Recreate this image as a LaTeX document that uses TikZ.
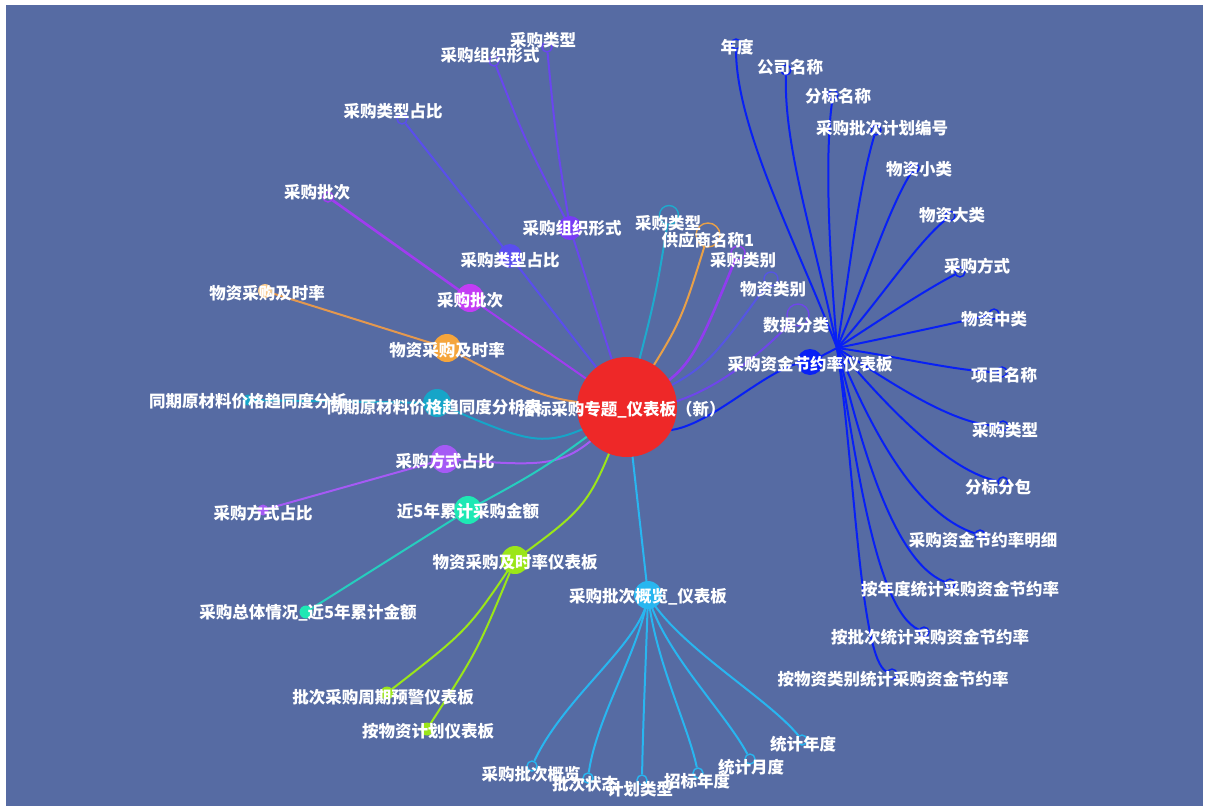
\documentclass[tikz,border=0pt]{standalone}
\usepackage{fontspec}
\newfontfamily\cjk{Noto Sans CJK SC}
\pgfdeclarelayer{bg}
\pgfdeclarelayer{edges}
\pgfdeclarelayer{text}
\pgfsetlayers{bg,edges,main,text}

\definecolor{bgblue}{RGB}{86,107,163}
\definecolor{hotred}{RGB}{238,40,40}
\definecolor{orgc}{RGB}{120,60,245}
\definecolor{orge}{RGB}{105,70,240}
\definecolor{tprc}{RGB}{90,78,238}
\definecolor{batc}{RGB}{195,60,245}
\definecolor{bate}{RGB}{160,60,240}
\definecolor{timc}{RGB}{245,165,60}
\definecolor{timee}{RGB}{228,152,78}
\definecolor{simc}{RGB}{22,165,200}
\definecolor{modc}{RGB}{165,90,245}
\definecolor{fivc}{RGB}{30,232,180}
\definecolor{fivee}{RGB}{38,205,190}
\definecolor{dshc}{RGB}{155,230,25}
\definecolor{ovwc}{RGB}{40,182,240}
\definecolor{hubc}{RGB}{8,32,245}
\definecolor{ctac}{RGB}{30,170,205}
\definecolor{ctbc}{RGB}{232,160,72}
\definecolor{ctcc}{RGB}{145,60,240}
\definecolor{ctdc}{RGB}{85,85,228}
\definecolor{ctec}{RGB}{110,70,235}

\tikzset{
  lbl/.style={text=white, font=\cjk\bfseries\fontsize{16.5}{18}\selectfont, inner sep=0pt},
  bubble/.style={circle, fill=#1, inner sep=0pt},
  ring/.style={circle, draw=#1, line width=1.4pt, minimum size=10pt, inner sep=0pt},
  dot/.style={circle, fill=#1, minimum size=11pt, inner sep=0pt},
  link/.style={draw=#1, line width=2pt},
}

\begin{document}
\begin{tikzpicture}[x=1pt,y=-1pt]
\useasboundingbox (0,0) rectangle (1208,809);
\begin{pgfonlayer}{bg}
  \fill[white] (0,0) rectangle (1208,809);
  \fill[bgblue] (6,5) rectangle (1203,806);
\end{pgfonlayer}

% ---------- main dashboard and its direct children ----------
\node[bubble=hotred, minimum size=100pt] (C) at (627,407) {};
\node[bubble=orgc, minimum size=24pt] (org) at (570,228) {};
\node[bubble=tprc, minimum size=24pt] (tpr) at (510,256) {};
\node[bubble=batc, minimum size=28pt] (bat) at (470,298) {};
\node[bubble=timc, minimum size=28pt] (tim) at (447,348) {};
\node[bubble=simc, minimum size=28pt] (sim) at (437,403) {};
\node[bubble=modc, minimum size=28pt] (mod) at (445,459) {};
\node[bubble=fivc, minimum size=28pt] (fiv) at (468,510) {};
\node[bubble=dshc, minimum size=28pt] (dsh) at (515,560) {};
\node[bubble=ovwc, minimum size=28pt] (ovw) at (648,595) {};
\node[bubble=hubc, minimum size=26pt] (hub) at (810,362) {};
\coordinate (fan) at (837,348);

% small leaves attached to the main dashboard
\node[ring=ctac, minimum size=19pt] (ca) at (669,215) {};
\node[ring=ctbc, minimum size=24pt] (cb) at (708,235) {};
\node[ring=ctcc, minimum size=14pt] (cc) at (738,253) {};
\node[ring=ctdc, minimum size=14pt] (cd) at (771,279) {};
\node[ring=ctec, minimum size=22pt] (ce) at (798,315) {};

% leaves on the left
\node[ring=orge] (o1) at (547,47) {};
\node[ring=orge] (o2) at (494,61) {};
\node[ring=tprc] (t1) at (402,119) {};
\node[ring=bate] (b1) at (328,197) {};
\node[dot=timc!60!white, minimum size=14pt] (m1) at (265,291) {};
\node[dot=simc] (s1) at (248,400) {};
\node[dot=modc] (d1) at (263,510) {};
\node[dot=fivc, minimum size=13pt] (f1) at (306,612) {};
\node[dot=dshc, minimum size=13pt] (g1) at (387,693) {};
\node[dot=dshc, minimum size=13pt] (g2) at (427,729) {};

% leaves of the batch overview
\node[ring=ovwc] (v1) at (532,766) {};
\node[ring=ovwc] (v2) at (588,778) {};
\node[ring=ovwc] (v3) at (642,780) {};
\node[ring=ovwc] (v4) at (698,773) {};
\node[ring=ovwc] (v5) at (750,759) {};
\node[ring=ovwc] (v6) at (802,740) {};

% leaves of the savings-rate dashboard
\node[ring=hubc] (h1) at (736,44) {};
\node[ring=hubc] (h2) at (786,70) {};
\node[ring=hubc] (h3) at (833,95) {};
\node[ring=hubc] (h4) at (876,130) {};
\node[ring=hubc] (h5) at (914,168) {};
\node[ring=hubc] (h6) at (950,216) {};
\node[ring=hubc] (h7) at (960,272) {};
\node[ring=hubc] (h8) at (994,314) {};
\node[ring=hubc] (h9) at (1002,372) {};
\node[ring=hubc] (h10) at (1003,426) {};
\node[ring=hubc] (h11) at (1003,482) {};
\node[ring=hubc] (h12) at (980,535) {};
\node[ring=hubc] (h13) at (950,584) {};
\node[ring=hubc] (h14) at (924,632) {};
\node[ring=hubc] (h15) at (892,674) {};

% ---------- connectors ----------
\begin{pgfonlayer}{edges}
  \draw[link=orge] (C.center) -- (org.center);
  \draw[link=tprc] (C.center) -- (tpr.center);
  \draw[link=bate] (C.center) -- (bat.center);
  \draw[link=timee] (C.center) .. controls (545,400) .. (tim.center);
  \draw[link=simc] (C.center) .. controls (545,450) .. (sim.center);
  \draw[link=modc] (C.center) .. controls (565,468) .. (mod.center);
  \draw[link=fivee] (C.center) .. controls (545,468) .. (fiv.center);
  \draw[link=dshc] (C.center) .. controls (590,505) .. (dsh.center);
  \draw[link=ovwc] (C.center) -- (ovw.center);
  \draw[link=hubc] (C.center) .. controls (670,480) and (760,360) .. (hub.center);
  \draw[link=ctac] (C.center) .. controls (655,300) .. (ca);
  \draw[link=ctbc] (C.center) .. controls (680,325) .. (cb);
  \draw[link=ctcc, line width=2.6pt] (C.center) .. controls (690,370) .. (cc);
  \draw[link=ctdc] (C.center) .. controls (705,370) .. (cd);
  \draw[link=ctec] (C.center) .. controls (690,415) and (760,355) .. (ce);

  \draw[link=orge] (org.center) .. controls (556,140) .. (o1);
  \draw[link=orge] (org.center) .. controls (525,140) .. (o2);
  \draw[link=tprc] (tpr.center) -- (t1);
  \draw[link=bate, line width=2.6pt] (bat.center) -- (b1);
  \draw[link=timee] (tim.center) -- (m1);
  \draw[link=simc] (sim.center) -- (s1);
  \draw[link=modc] (mod.center) -- (d1);
  \draw[link=fivee] (fiv.center) -- (f1);
  \draw[link=dshc] (dsh.center) .. controls (468,630) .. (g1);
  \draw[link=dshc] (dsh.center) .. controls (478,650) .. (g2);

  \draw[link=ovwc] (ovw.center) .. controls (645,640) and (565,695) .. (v1);
  \draw[link=ovwc] (ovw.center) .. controls (640,650) and (597,715) .. (v2);
  \draw[link=ovwc] (ovw.center) .. controls (646,660) and (643,720) .. (v3);
  \draw[link=ovwc] (ovw.center) .. controls (655,660) and (688,725) .. (v4);
  \draw[link=ovwc] (ovw.center) .. controls (662,650) and (725,712) .. (v5);
  \draw[link=ovwc] (ovw.center) .. controls (676,645) and (768,698) .. (v6);

  \draw[link=hubc] (hub.center) -- (fan);
  \draw[link=hubc] (fan) .. controls (800,250) and (736,130) .. (h1);
  \draw[link=hubc] (fan) .. controls (815,240) and (784,150) .. (h2);
  \draw[link=hubc] (fan) .. controls (830,260) and (824,160) .. (h3);
  \draw[link=hubc] (fan) .. controls (850,270) and (858,190) .. (h4);
  \draw[link=hubc] (fan) .. controls (866,280) and (888,210) .. (h5);
  \draw[link=hubc] (fan) .. controls (880,300) and (915,245) .. (h6);
  \draw[link=hubc] (fan) .. controls (880,320) and (925,290) .. (h7);
  \draw[link=hubc] (fan) .. controls (900,335) and (960,322) .. (h8);
  \draw[link=hubc] (fan) .. controls (890,355) and (960,372) .. (h9);
  \draw[link=hubc] (fan) .. controls (880,375) and (950,425) .. (h10);
  \draw[link=hubc] (fan) .. controls (865,380) and (940,470) .. (h11);
  \draw[link=hubc] (fan) .. controls (860,400) and (905,510) .. (h12);
  \draw[link=hubc] (fan) .. controls (858,430) and (890,560) .. (h13);
  \draw[link=hubc] (fan) .. controls (855,450) and (875,610) .. (h14);
  \draw[link=hubc] (fan) .. controls (855,470) and (860,660) .. (h15);
\end{pgfonlayer}

% ---------- labels ----------
\begin{pgfonlayer}{text}
  \node[lbl] (org-t) at (572,228) {采购组织形式};
  \node[lbl] (tpr-t) at (510,260) {采购类型占比};
  \node[lbl] (bat-t) at (470,300) {采购批次};
  \node[lbl] (tim-t) at (447,350) {物资采购及时率};
  \node[lbl] (sim-t) at (434,407) {同期原材料价格趋同度分析表};
  \node[lbl] (mod-t) at (445,461) {采购方式占比};
  \node[lbl] (fiv-t) at (468,511) {近5年累计采购金额};
  \node[lbl] (dsh-t) at (515,562) {物资采购及时率仪表板};
  \node[lbl] (ovw-t) at (648,597) {采购批次概览\_仪表板};
  \node[lbl] (hub-t) at (810,364) {采购资金节约率仪表板};
  \node[lbl] (C-t) at (622,410) {招标采购专题\_仪表板（新）};

  \node[lbl] (ca-t) at (668,223) {采购类型};
  \node[lbl] (cb-t) at (708,240) {供应商名称1};
  \node[lbl] (cc-t) at (743,260) {采购类别};
  \node[lbl] (cd-t) at (773,289) {物资类别};
  \node[lbl] (ce-t) at (796,325) {数据分类};

  \node[lbl] (o1-t) at (543,40) {采购类型};
  \node[lbl] (o2-t) at (490,55) {采购组织形式};
  \node[lbl] (t1-t) at (393,111) {采购类型占比};
  \node[lbl] (b1-t) at (317,192) {采购批次};
  \node[lbl] (m1-t) at (267,293) {物资采购及时率};
  \node[lbl] (s1-t) at (248,401) {同期原材料价格趋同度分析};
  \node[lbl] (d1-t) at (263,513) {采购方式占比};
  \node[lbl] (f1-t) at (308,613) {采购总体情况\_近5年累计金额};
  \node[lbl] (g1-t) at (383,697) {批次采购周期预警仪表板};
  \node[lbl] (g2-t) at (428,731) {按物资计划仪表板};

  \node[lbl] (v1-t) at (531,774) {采购批次概览};
  \node[lbl] (v2-t) at (585,784) {批次状态};
  \node[lbl] (v3-t) at (640,789) {计划类型};
  \node[lbl] (v4-t) at (697,781) {招标年度};
  \node[lbl] (v5-t) at (751,767) {统计月度};
  \node[lbl] (v6-t) at (803,744) {统计年度};

  \node[lbl] (h1-t) at (737,47) {年度};
  \node[lbl] (h2-t) at (790,67) {公司名称};
  \node[lbl] (h3-t) at (838,96) {分标名称};
  \node[lbl] (h4-t) at (882,128) {采购批次计划编号};
  \node[lbl] (h5-t) at (919,169) {物资小类};
  \node[lbl] (h6-t) at (952,215) {物资大类};
  \node[lbl] (h7-t) at (977,266) {采购方式};
  \node[lbl] (h8-t) at (994,319) {物资中类};
  \node[lbl] (h9-t) at (1004,375) {项目名称};
  \node[lbl] (h10-t) at (1005,430) {采购类型};
  \node[lbl] (h11-t) at (998,487) {分标分包};
  \node[lbl] (h12-t) at (983,540) {采购资金节约率明细};
  \node[lbl] (h13-t) at (960,589) {按年度统计采购资金节约率};
  \node[lbl] (h14-t) at (930,637) {按批次统计采购资金节约率};
  \node[lbl] (h15-t) at (893,679) {按物资类别统计采购资金节约率};
\end{pgfonlayer}
\end{tikzpicture}
\end{document}
